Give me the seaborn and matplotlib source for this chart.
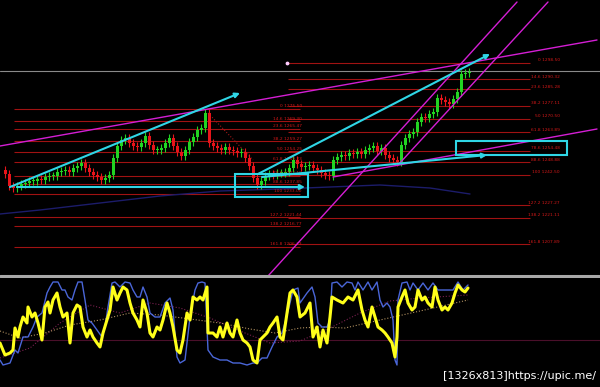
import numpy as np
import pandas as pd
import matplotlib
matplotlib.use("Agg")
import matplotlib.pyplot as plt
from matplotlib.patches import Rectangle
import seaborn as sns

# ---------------- data ----------------
# candle closes (price), one per bar
close = [1243, 1237, 1236, 1237, 1238, 1238.5, 1239.5, 1239.5, 1240.5, 1240,
         1241.5, 1242, 1242, 1244, 1244.5, 1245, 1244, 1246, 1247, 1248.5,
         1246, 1244, 1242.5, 1241.5, 1240, 1241, 1242.5, 1251, 1257, 1260,
         1261, 1258.5, 1257, 1256.5, 1258.5, 1262, 1257.5, 1255, 1255, 1256,
         1258.5, 1261, 1257, 1254, 1252, 1255, 1259, 1261.5, 1265, 1266,
         1273.5, 1258.5, 1257, 1256, 1255, 1256.5, 1255, 1254.5, 1253.5, 1254,
         1251, 1247, 1241, 1237.5, 1239.5, 1242, 1243, 1242.5, 1243.5, 1243.5,
         1244, 1246, 1250, 1248, 1246.5, 1247, 1247.5, 1246, 1245, 1243.5,
         1242.5, 1242, 1250, 1251.5, 1252.5, 1252, 1253.5, 1253, 1254, 1253,
         1255, 1256, 1257, 1254.5, 1256, 1252.5, 1251, 1250, 1249, 1257.5,
         1261, 1263, 1264, 1269, 1271.5, 1271, 1273, 1274, 1281, 1280,
         1279, 1278, 1280.5, 1284, 1293, 1293.5, 1294]
first_open = 1245
bar_time0, bar_step = 5, 4          # time stamp of first bar, bar interval

current_price = 1294.5

# fibonacci sets
fib_levels = [0, 14.6, 23.6, 38.2, 50.0, 61.8, 78.6, 88.6, 100, 127.2, 138.2, 161.8]
fib_left_high, fib_left_low = 1275.5, 1233.0
fib_left_span = [14, 300]
fib_right_high, fib_right_low = 1298.5, 1242.5
fib_right_span = [288, 530]

# trend lines (time, price)
mag_upper_t, mag_upper_p = [0, 597], [1257, 1310]
mag_lower_t, mag_lower_p = [333, 597], [1241.5, 1265.5]
chan_a_t, chan_a_p = [268, 517], [1192, 1329]
chan_b_t, chan_b_p = [398, 548], [1247.5, 1329]
cy_arrow1_t, cy_arrow1_p = [10, 240], [1236.5, 1283.5]
cy_arrow2_t, cy_arrow2_p = [258, 490], [1243, 1303]
cy_arrow3_t, cy_arrow3_p = [262, 487], [1241.5, 1252.5]
cy_flat_t, cy_flat_p = [17, 305], [1236.5, 1236.5]
box1_t, box1_p = [235, 308], [1231.5, 1243]
box2_t, box2_p = [456, 567], [1252.5, 1259.5]
fib_link_t, fib_link_p = [208, 253], [1273.5, 1250]

# slow moving average (navy)
ma_t = [0, 40, 100, 160, 220, 280, 330, 380, 430, 470]
ma_p = [1223, 1225, 1228.5, 1232, 1234.5, 1235.5, 1236.5, 1237.5, 1236, 1233]

# oscillator
yel_t = [0, 5, 10, 13, 15, 18, 20, 23, 27, 28, 32, 35, 38, 42, 45, 48, 50, 53, 57, 60,
         63, 67, 70, 73, 77, 80, 83, 87, 90, 93, 97, 100, 103, 107, 110, 113, 117, 120,
         123, 127, 130, 133, 137, 140, 143, 147, 150, 153, 157, 160, 163, 167, 170, 173,
         177, 180, 183, 187, 190, 193, 197, 200, 203, 207, 208, 213, 217, 220, 223, 227,
         230, 233, 237, 240, 243, 247, 250, 253, 257, 260, 263, 267, 270, 273, 277, 280,
         283, 287, 290, 293, 297, 300, 305, 310, 313, 317, 320, 323, 327, 330, 332, 337,
         343, 348, 353, 358, 362, 365, 368, 372, 375, 378, 382, 385, 388, 392, 395, 397,
         398, 402, 405, 408, 412, 415, 418, 422, 425, 428, 432, 435, 438, 442, 445, 448,
         452, 455, 458, 462, 465, 468]
yel_v = [40, 28, 30, 33, 55, 46, 56, 66, 60, 76, 66, 70, 60, 43, 76, 81, 70, 83, 90, 76,
         66, 70, 40, 70, 78, 76, 56, 46, 53, 46, 40, 36, 50, 63, 73, 96, 83, 90,
         96, 93, 80, 70, 63, 56, 83, 70, 50, 46, 56, 53, 63, 80, 70, 56,
         33, 30, 43, 70, 63, 86, 83, 86, 83, 96, 50, 50, 46, 56, 46, 60,
         50, 46, 63, 50, 43, 40, 36, 23, 20, 43, 46, 50, 56, 60, 66, 46,
         43, 70, 90, 93, 86, 66, 70, 80, 46, 56, 36, 53, 40, 66, 86, 83,
         80, 86, 83, 93, 73, 63, 56, 76, 66, 56, 53, 50, 46, 40, 26, 46,
         76, 86, 93, 80, 73, 76, 93, 83, 86, 80, 76, 96, 83, 73, 76, 73,
         80, 90, 98, 93, 91, 95]
blue_t = [0, 3, 10, 15, 18, 23, 28, 33, 37, 42, 47, 50, 53, 58, 62, 65, 68, 72, 75, 78,
          82, 85, 88, 92, 97, 102, 105, 108, 112, 115, 120, 125, 130, 133, 137, 140, 143,
          147, 150, 155, 160, 165, 170, 173, 177, 180, 185, 190, 195, 198, 202, 205, 208,
          213, 220, 227, 233, 240, 247, 253, 257, 262, 267, 272, 277, 282, 285, 290, 293,
          298, 300, 307, 312, 315, 318, 322, 327, 330, 332, 337, 342, 347, 352, 355, 358,
          363, 368, 372, 377, 380, 383, 387, 390, 393, 395, 397, 398, 402, 407, 410, 413,
          418, 423, 428, 433, 438, 443, 448, 453, 458, 463, 468]
blue_v = [23, 18, 20, 33, 30, 46, 46, 56, 66, 70, 90, 96, 101, 101, 93, 93, 86, 83, 93, 101,
          101, 83, 63, 60, 53, 46, 56, 76, 100, 101, 96, 101, 100, 93, 86, 86, 96,
          86, 70, 66, 66, 80, 85, 73, 26, 20, 23, 66, 93, 100, 101, 100, 33,
          26, 23, 23, 20, 20, 18, 20, 20, 25, 25, 36, 46, 50, 60, 80, 93,
          95, 80, 90, 96, 86, 60, 56, 56, 63, 100, 101, 96, 101, 100, 93, 101,
          93, 101, 93, 101, 83, 76, 80, 76, 63, 23, 18, 83, 100, 101, 93, 100,
          93, 100, 93, 100, 93, 93, 93, 93, 101, 93, 98]
sig_t = [0, 20, 45, 70, 100, 130, 160, 190, 220, 250, 275, 300, 320, 345, 380, 420, 468]
sig_v = [52, 45, 50, 58, 63, 70, 68, 64, 60, 54, 50, 55, 56, 55, 63, 72, 83]
slow_t = [0, 30, 60, 90, 120, 150, 180, 210, 240, 270, 300, 330, 360, 390, 420, 468]
slow_v = [25, 35, 60, 78, 70, 80, 75, 65, 52, 40, 42, 55, 70, 82, 85, 88]
osc_level = 43

watermark = "[1326x813]https://upic.me/"

# ---------------- style ----------------
sns.set_theme(style="dark")
plt.rcParams['font.family'] = ['DejaVu Sans']

GREEN, RED = '#22d422', '#e8141a'
CYAN, MAG = '#2fd6e6', '#d41ed4'
FIBC = '#a01212'

fig = plt.figure(figsize=(6, 3.87), dpi=100, facecolor='black')
split = 109 / 387
ax = fig.add_axes([0, split, 1, 1 - split])
ax2 = fig.add_axes([0, 0, 1, split])
for a in (ax, ax2):
    a.set_facecolor('black')
    a.set_xlim(0, 600)
    a.set_xticks([]); a.set_yticks([])
    for s in a.spines.values():
        s.set_visible(False)
    a.grid(False)
ax.set_ylim(1191, 1330)
ax2.set_ylim(-4, 105)

# ---------------- main panel ----------------
n = len(close)
t = bar_time0 + bar_step * np.arange(n)
opens = np.array([first_open] + close[:-1], dtype=float)
closes = np.array(close, dtype=float)
up = closes >= opens
cols = np.where(up, GREEN, RED)
wick = 1.8
ax.vlines(t, np.minimum(opens, closes) - wick, np.maximum(opens, closes) + wick,
          colors=cols, lw=0.8, zorder=4)
body = np.where(np.abs(closes - opens) < 0.5, 0.5, closes - opens)
ax.bar(t, body, bottom=opens, width=3.0, color=cols, linewidth=0, zorder=5)

# slow MA
sns.lineplot(x=ma_t, y=ma_p, ax=ax, color='#1c1c6a', lw=1.0, zorder=2)

# fibonacci
for hi, lo, span, lx in [(fib_left_high, fib_left_low, fib_left_span, 302),
                         (fib_right_high, fib_right_low, fib_right_span, 560)]:
    for lv in fib_levels:
        p = hi - lv / 100 * (hi - lo)
        ax.hlines(p, span[0], span[1], color=FIBC, lw=0.8, zorder=1)
        ax.text(lx, p + 0.3, f"{lv:g} {p:.2f}", color='#d01818', fontsize=3.2,
                ha='right', va='bottom', zorder=6)
ax.plot(fib_link_t, fib_link_p, color='#a01818', lw=0.8, ls=':', zorder=3)
ax.scatter([287], [fib_right_high], s=3, color='#ffccff', zorder=6)

# current price line
ax.axhline(current_price, color='#8a8a8a', lw=0.8, zorder=1)

# magenta lines
for tt, pp in [(mag_upper_t, mag_upper_p), (mag_lower_t, mag_lower_p),
               (chan_a_t, chan_a_p), (chan_b_t, chan_b_p)]:
    sns.lineplot(x=tt, y=pp, ax=ax, color=MAG, lw=1.0, zorder=7)

# cyan arrows and boxes
for tt, pp in [(cy_arrow1_t, cy_arrow1_p), (cy_arrow2_t, cy_arrow2_p),
               (cy_arrow3_t, cy_arrow3_p), (cy_flat_t, cy_flat_p)]:
    ax.annotate("", xy=(tt[1], pp[1]), xytext=(tt[0], pp[0]),
                arrowprops=dict(arrowstyle='-|>', color=CYAN, lw=1.5,
                                mutation_scale=7, shrinkA=0, shrinkB=0),
                zorder=8)
for bt, bp in [(box1_t, box1_p), (box2_t, box2_p)]:
    ax.add_patch(Rectangle((bt[0], bp[0]), bt[1] - bt[0], bp[1] - bp[0],
                           fill=False, edgecolor=CYAN, lw=1.5, zorder=8))

# separator
ax.axhline(1191.9, color='#a8a8a8', lw=2.2, zorder=9)

# ---------------- oscillator ----------------
ax2.axhline(osc_level, color='#4a0f2a', lw=0.8)
sns.lineplot(x=slow_t, y=slow_v, ax=ax2, color='#7a2050', lw=0.8, ls=':')
sns.lineplot(x=sig_t, y=sig_v, ax=ax2, color='#b09060', lw=0.8, ls=':')
sns.lineplot(x=blue_t, y=blue_v, ax=ax2, color='#4a66d8', lw=1.0)
sns.lineplot(x=yel_t, y=yel_v, ax=ax2, color='#ffff1a', lw=2.2)
for a in (ax, ax2):
    a.set_xlabel(''); a.set_ylabel('')
    leg = a.get_legend()
    if leg:
        leg.remove()

fig.text(596 / 600, 1 - 376 / 387, watermark, color='white', fontsize=8,
         ha='right', va='center')

fig.savefig('out.png', dpi=100, facecolor='black')
